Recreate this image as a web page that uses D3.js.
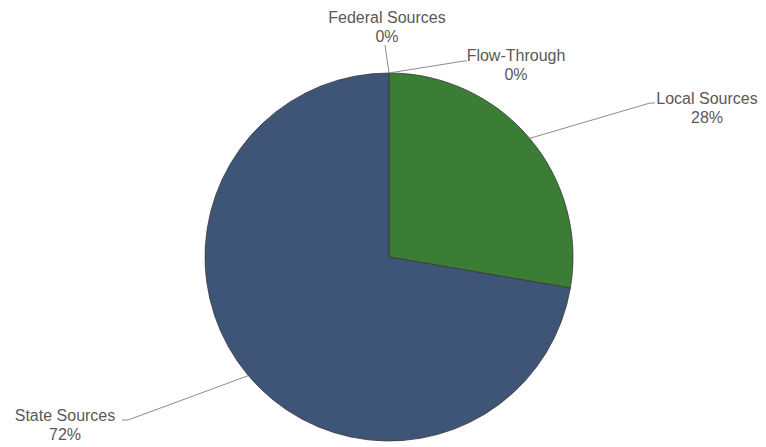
<!DOCTYPE html>
<html>
<head>
<meta charset="utf-8">
<script src="https://cdn.jsdelivr.net/npm/d3@7"></script>
<style>
  html, body { margin: 0; padding: 0; background: #ffffff; }
  svg { display: block; }
</style>
</head>
<body>
<svg id="chart" width="766" height="447"></svg>
<script>
// Revenue by source (share of total, percent)
const categories = ["Local Sources", "State Sources", "Federal Sources", "Flow-Through"];
const shares = [27.7, 72.3, 0.0, 0.0];
const colors = ["#3b7d34", "#3e5577", "#7f7f7f", "#a5a5a5"];

// Label anchor placement (text centre x, first baseline y) and leader elbow points
const labelLayout = [
  { x: 707, y: 104, elbow: [650, 103], end: [655, 103] },
  { x: 65,  y: 421, elbow: [128, 420], end: [122, 420] },
  { x: 387, y: 23,  elbow: [385, 45],  end: [385, 45] },
  { x: 516, y: 61,  elbow: [464, 61],  end: [467, 61] }
];

const svg = d3.select("#chart");
const cx = 389, cy = 257, radius = 184;

const data = categories.map((c, i) => ({ name: c, value: shares[i], color: colors[i], layout: labelLayout[i] }));

const pie = d3.pie().sort(null).value(d => d.value).startAngle(0).endAngle(2 * Math.PI);
const arc = d3.arc().innerRadius(0).outerRadius(radius);
const arcs = pie(data);

const g = svg.append("g").attr("transform", `translate(${cx},${cy})`);

g.selectAll("path.slice")
  .data(arcs.filter(a => a.endAngle > a.startAngle))
  .join("path")
  .attr("class", "slice")
  .attr("d", arc)
  .attr("fill", d => d.data.color)
  .attr("stroke", "#3a3a3a")
  .attr("stroke-width", 0.8);

// Leader lines from the slice edge to each label
const fmt = d3.format(".0%");
arcs.forEach(a => {
  const mid = (a.startAngle + a.endAngle) / 2;
  const sx = cx + radius * Math.sin(mid);
  const sy = cy - radius * Math.cos(mid);
  const L = a.data.layout;
  svg.append("polyline")
    .attr("points", [[sx, sy], L.elbow, L.end].map(p => p.join(",")).join(" "))
    .attr("fill", "none")
    .attr("stroke", "#8c8c8c")
    .attr("stroke-width", 1);

  const t = svg.append("text")
    .attr("x", L.x)
    .attr("y", L.y)
    .attr("text-anchor", "middle")
    .attr("font-family", "Liberation Sans, Arial, sans-serif")
    .attr("font-size", 16)
    .attr("fill", "#595959");
  t.append("tspan").attr("x", L.x).text(a.data.name);
  t.append("tspan").attr("x", L.x).attr("dy", 19).text(fmt(a.data.value / 100));
});
</script>
</body>
</html>
